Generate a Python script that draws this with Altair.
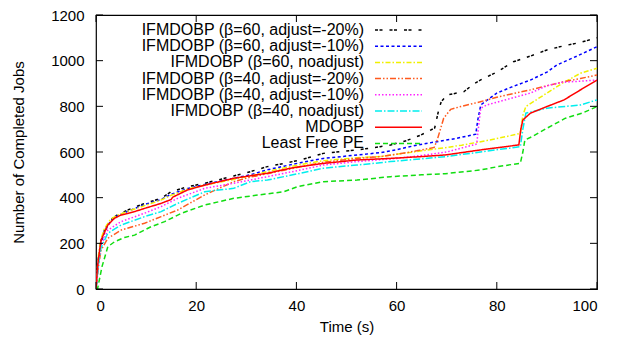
import altair as alt
import pandas as pd

names = [
    "IFMDOBP (β=60, adjust=-20%)",
    "IFMDOBP (β=60, adjust=-10%)",
    "IFMDOBP (β=60, noadjust)",
    "IFMDOBP (β=40, adjust=-20%)",
    "IFMDOBP (β=40, adjust=-10%)",
    "IFMDOBP (β=40, noadjust)",
    "MDOBP",
    "Least Free PE",
]
colors = ["#000000", "#0000ff", "#f0f000", "#ff5a1e", "#ff22ff", "#00eeee", "#ff0000", "#11dd11"]
dashes = [[3, 1.5, 3, 7], [3, 2.5], [5, 2, 1.5, 2], [6, 2, 1.5, 2, 1.5, 2], [1.5, 2], [7, 2, 1.5, 2], [1, 0], [5, 3]]

b60a20_x = [0, 0.5, 1.0, 1.7, 2.9, 4.2, 6.3, 9.7, 13.0, 15.0, 18.3, 21.7, 27.5, 30.8, 34.2, 37.5, 40.8, 45.4, 52.1, 56.7, 58.8, 62, 64.8, 67.6, 68.4, 68.9, 70.1, 73.4, 75.4, 76.7, 80, 83.3, 86.7, 90, 93.4, 96.7, 99.2, 100]
b60a20_y = [0, 140, 210, 258, 302, 324, 346, 375, 397, 426, 448, 463, 495, 514, 536, 550, 565, 594, 609, 623, 631, 650, 674, 705, 784, 820, 850, 864, 898, 915, 950, 995, 1020, 1047, 1065, 1080, 1095, 1100]

b60a10_x = [0, 0.5, 1.0, 1.7, 2.9, 4.2, 6.3, 9.7, 13.0, 15.0, 18.3, 21.7, 27.5, 30.8, 34.2, 37.5, 40.8, 45.4, 52.1, 56.7, 60, 64, 68, 72, 75.8, 76.2, 76.8, 80, 83, 86.7, 90, 92, 96, 100]
b60a10_y = [0, 130, 200, 250, 298, 320, 340, 370, 392, 415, 440, 458, 485, 500, 522, 538, 553, 572, 587, 597, 610, 630, 645, 660, 678, 740, 806, 858, 885, 915, 950, 981, 1020, 1061]

b60na_x = [0, 0.5, 1.0, 1.7, 2.9, 4.2, 6.3, 9.7, 13.0, 15.0, 18.3, 21.7, 27.5, 30.8, 34.2, 37.5, 40.8, 45.4, 52.1, 56.7, 60, 65, 70, 73, 78, 82, 84.7, 85.2, 85.8, 88, 90, 93, 96.7, 100]
b60na_y = [0, 150, 220, 265, 305, 322, 340, 365, 390, 410, 438, 455, 480, 495, 515, 530, 545, 562, 575, 580, 590, 605, 620, 630, 650, 668, 682, 760, 799, 830, 858, 900, 945, 967]

b40a20_x = [0, 0.5, 1.0, 2.36, 5.0, 9.7, 13.0, 16.3, 21.7, 27.5, 30.8, 34.2, 37.5, 40.8, 45.4, 52.1, 56.7, 60, 64, 67.5, 68.1, 69.4, 70.8, 72.8, 76.7, 80, 86.7, 90, 93.4, 96.7, 100]
b40a20_y = [0, 100, 170, 222, 258, 288, 317, 346, 412, 470, 490, 505, 520, 535, 555, 572, 580, 590, 605, 620, 652, 748, 787, 799, 820, 840, 872, 890, 908, 922, 937]

b40a10_x = [0, 0.5, 1.0, 2.36, 5.0, 9.7, 13.0, 16.3, 21.7, 27.5, 34.2, 40.8, 45.4, 52.1, 56.7, 60, 65, 70, 76, 76.3, 76.8, 78, 82, 86.7, 90, 93, 100]
b40a10_y = [0, 120, 190, 258, 295, 332, 361, 397, 441, 463, 492, 521, 543, 558, 566, 572, 585, 600, 635, 700, 792, 806, 830, 858, 890, 905, 915]

b40na_x = [0, 0.5, 1.0, 2.36, 5.0, 9.7, 13.0, 16.3, 21.7, 27.5, 30.8, 34.2, 40.8, 45.4, 52.1, 56.7, 58.8, 65, 70, 75, 80, 84.7, 85.2, 85.8, 90, 96.7, 100]
b40na_y = [0, 110, 180, 244, 280, 317, 339, 375, 426, 441, 470, 477, 507, 529, 543, 553, 558, 570, 580, 595, 610, 623, 700, 770, 792, 806, 828]

mdobp_x = [0, 0.3, 1.0, 2.36, 3.7, 5.0, 6.35, 7.7, 9.7, 13.0, 15.0, 15.3, 18.3, 21.7, 27.5, 34.2, 38.8, 40.8, 45.4, 52.1, 58.8, 65, 69.7, 76.7, 84.4, 84.8, 85.2, 86.7, 90, 93.4, 96.7, 100]
mdobp_y = [0, 100, 214, 280, 310, 324, 331, 339, 353, 375, 392, 402, 434, 455, 485, 507, 529, 536, 550, 565, 572, 580, 587, 609, 631, 700, 740, 770, 799, 828, 872, 915]

lfpe_x = [0, 0.3, 1.2, 2.36, 3.7, 5.7, 7.7, 11.0, 13.7, 17.0, 21.7, 27.5, 30.8, 37.5, 40.2, 45.4, 52.1, 58.8, 65, 69.7, 76.7, 80, 84.7, 85.2, 85.6, 87, 90, 93.7, 97, 100]
lfpe_y = [0, 0, 98, 185, 207, 226, 236, 273, 295, 331, 368, 397, 407, 426, 448, 470, 477, 492, 500, 505, 521, 535, 551, 600, 652, 667, 704, 748, 770, 799]

x_ticks = [0, 20, 40, 60, 80, 100]
y_ticks = [0, 200, 400, 600, 800, 1000, 1200]

all_x = [b60a20_x, b60a10_x, b60na_x, b40a20_x, b40a10_x, b40na_x, mdobp_x, lfpe_x]
all_y = [b60a20_y, b60a10_y, b60na_y, b40a20_y, b40a10_y, b40na_y, mdobp_y, lfpe_y]

rows = []
for name, xs, ys in zip(names, all_x, all_y):
    for i, (xv, yv) in enumerate(zip(xs, ys)):
        rows.append({"series": name, "t": xv, "jobs": yv, "order": i})
df = pd.DataFrame(rows)

W, H = 501, 274
FONT = "Liberation Sans"

xscale = alt.Scale(domain=[0, 100], nice=False)
yscale = alt.Scale(domain=[0, 1200], nice=False)

lines = alt.Chart(df).mark_line(strokeWidth=1.5, clip=True).encode(
    x=alt.X("t:Q", scale=xscale, title="Time (s)",
            axis=alt.Axis(values=x_ticks, format="d", ticks=False, domain=False, grid=False,
                          labelPadding=9, titlePadding=6)),
    y=alt.Y("jobs:Q", scale=yscale, title="Number of Completed Jobs",
            axis=alt.Axis(values=y_ticks, format="d", ticks=False, domain=False, grid=False,
                          labelPadding=12, titlePadding=24)),
    color=alt.Color("series:N", scale=alt.Scale(domain=names, range=colors), legend=None),
    strokeDash=alt.StrokeDash("series:N", scale=alt.Scale(domain=names, range=dashes), legend=None),
    order="order:Q",
)

xt = pd.DataFrame({"v": x_ticks})
yt = pd.DataFrame({"v": y_ticks})
TL = 7
xt_bottom = alt.Chart(xt).mark_rule(color="black", strokeWidth=1).encode(
    x=alt.X("v:Q", scale=xscale), y=alt.value(H), y2=alt.value(H - TL))
xt_top = alt.Chart(xt).mark_rule(color="black", strokeWidth=1).encode(
    x=alt.X("v:Q", scale=xscale), y=alt.value(0), y2=alt.value(TL))
yt_left = alt.Chart(yt).mark_rule(color="black", strokeWidth=1).encode(
    y=alt.Y("v:Q", scale=yscale), x=alt.value(0), x2=alt.value(TL))
yt_right = alt.Chart(yt).mark_rule(color="black", strokeWidth=1).encode(
    y=alt.Y("v:Q", scale=yscale), x=alt.value(W - TL), x2=alt.value(W))

legend_layers = []
for i, (name, c, d) in enumerate(zip(names, colors, dashes)):
    yy = 15 + 16.2 * i
    legend_layers.append(
        alt.Chart(pd.DataFrame({"label": [name]})).mark_text(
            align="right", baseline="middle", font=FONT, fontSize=16, color="black"
        ).encode(text="label:N", x=alt.value(268), y=alt.value(yy))
    )
    legend_layers.append(
        alt.Chart(pd.DataFrame({"label": [name]})).mark_rule(
            color=c, strokeWidth=1.5, strokeDash=d
        ).encode(x=alt.value(279), x2=alt.value(326), y=alt.value(yy))
    )

chart = alt.layer(lines, xt_bottom, xt_top, yt_left, yt_right, *legend_layers).properties(
    width=W, height=H,
    background="white",
    autosize=alt.AutoSizeParams(type="none"),
    padding={"left": 88, "top": 7, "right": 13, "bottom": 50},
).configure_view(stroke="black", strokeWidth=1.2).configure_axis(
    labelFont=FONT, labelFontSize=15, labelColor="black",
    titleFont=FONT, titleFontSize=15, titleFontWeight="normal", titleColor="black",
)

chart.save("out.html", embed_options={"renderer": "svg", "actions": False})
